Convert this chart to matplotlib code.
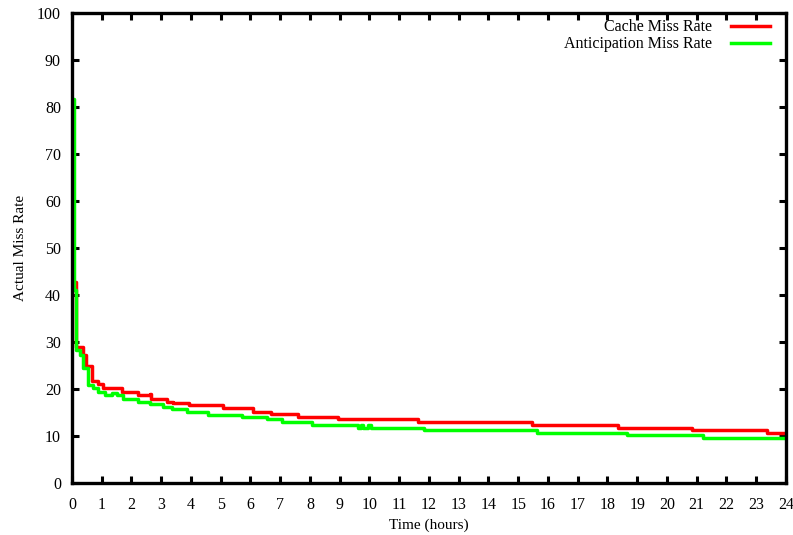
import matplotlib
matplotlib.use('Agg')
import matplotlib.pyplot as plt
from matplotlib.ticker import MultipleLocator

# step points: (hour at which the rate changes, rate from then on)
cache_hours = [0.0, 0.12, 0.36, 0.46, 0.66, 0.86, 1.03, 1.67, 2.21, 2.61, 2.66,
               3.18, 3.38, 3.95, 5.07, 6.07, 6.68, 7.59, 8.93, 11.62, 15.45,
               18.34, 20.86, 23.35, 24.0]
cache_rate = [42.8, 28.9, 27.2, 24.9, 21.7, 21.1, 20.3, 19.4, 18.7, 18.9, 17.9,
              17.3, 17.0, 16.5, 15.9, 15.2, 14.7, 14.1, 13.55, 12.9, 12.4,
              11.8, 11.3, 10.7, 10.7]

antic_hours = [0.0, 0.04, 0.07, 0.14, 0.26, 0.36, 0.53, 0.70, 0.86, 1.10, 1.33,
               1.50, 1.70, 2.21, 2.61, 3.05, 3.35, 3.85, 4.56, 5.70, 6.54,
               7.05, 8.06, 9.60, 9.70, 9.78, 9.95, 10.05, 11.85, 15.62, 18.65,
               21.2, 24.0]
antic_rate = [41.0, 81.7, 41.0, 28.3, 27.3, 24.5, 20.9, 20.2, 19.4, 18.7, 19.2,
              18.7, 17.9, 17.3, 16.8, 16.2, 15.7, 15.1, 14.5, 14.1, 13.55,
              12.9, 12.3, 11.8, 12.3, 11.8, 12.3, 11.8, 11.2, 10.7, 10.15,
              9.6, 9.6]

plt.rcParams['font.family'] = ['Liberation Serif', 'DejaVu Serif']
plt.rcParams['font.size'] = 11.5

fig = plt.figure(figsize=(7.93, 5.35), dpi=100)
ax = fig.add_axes([0.0908, 0.0972, 0.9002, 0.8785])

ax.plot(cache_hours, cache_rate, drawstyle='steps-post', color='#ff0000',
        linewidth=2.5, label='Cache Miss Rate')
ax.plot(antic_hours, antic_rate, drawstyle='steps-post', color='#00ff00',
        linewidth=2.5, label='Anticipation Miss Rate')

ax.set_xlim(0, 24)
ax.set_ylim(0, 100)
ax.xaxis.set_major_locator(MultipleLocator(1))
ax.yaxis.set_major_locator(MultipleLocator(10))
ax.tick_params(direction='in', length=5, width=2.2, top=True, right=True,
               colors='black')
ax.tick_params(axis='x', pad=10)
ax.tick_params(axis='y', pad=8)
for s in ax.spines.values():
    s.set_linewidth(2.4)

ax.set_xlabel('Time (hours)', labelpad=4, fontsize=11)
ax.set_ylabel('Actual Miss Rate', labelpad=7, fontsize=11)

ax.legend(loc='upper right', bbox_to_anchor=(0.982, 0.993), frameon=False,
          markerfirst=False, handlelength=2.4, handletextpad=1.2,
          labelspacing=0.05, borderaxespad=0, borderpad=0.2, fontsize=11.5)

fig.savefig('out.png', dpi=100)
